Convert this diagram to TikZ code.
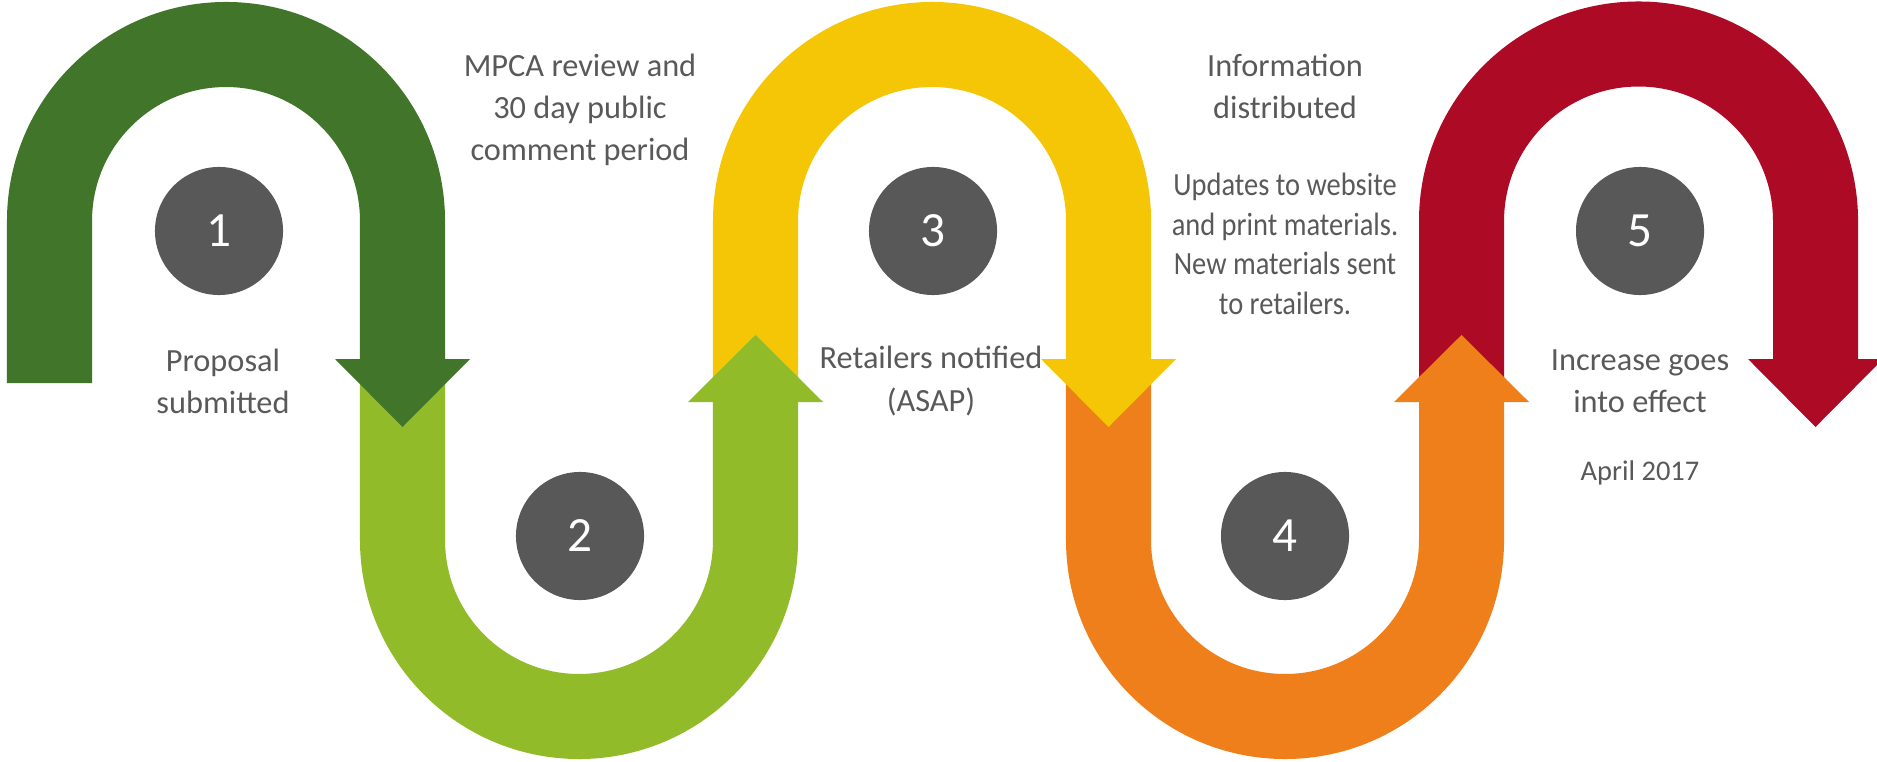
\documentclass[tikz,border=0pt]{standalone}
\usepackage{fontspec}
\setmainfont{Carlito}
\newfontfamily\narrowfont{Carlito}[FakeStretch=0.88]
\definecolor{stepone}{HTML}{41752A}
\definecolor{steptwo}{HTML}{92BB2A}
\definecolor{stepthree}{HTML}{F5C605}
\definecolor{stepfour}{HTML}{EF7F1A}
\definecolor{stepfive}{HTML}{AD0B25}
\definecolor{circlegray}{HTML}{585858}
\definecolor{textgray}{HTML}{595959}
\begin{document}
\begin{tikzpicture}[x=0.01cm,y=0.01cm]

		\tikzstyle{band} = [line width=0.85cm]
		
		\tikzstyle{numbers} = [circle, fill=circlegray, minimum size=1.28cm, inner sep=0, text=white, font=\fontsize{14}{16}\selectfont]
		
		\tikzstyle{labels} = [align=center, text=textgray, font=\fontsize{9.2}{11.95}\selectfont]
		
		\tikzstyle{smalllabels} = [align=center, text=textgray, font=\narrowfont\fontsize{9.2}{11.3}\selectfont]
		
		\useasboundingbox (0,0) rectangle (1877,-761);
		
		\draw[band, stepone] (49.5,-383) -- (49.5,-221) arc (180:0:176.5) -- (402.5,-359);
		\draw[band, steptwo] (402.5,-370) -- (402.5,-540) arc (180:360:176.5) -- (755.5,-402);
		\draw[band, stepthree] (755.5,-395) -- (755.5,-221) arc (180:0:176.5) -- (1108.5,-359);
		\draw[band, stepfour] (1108.5,-370) -- (1108.5,-540) arc (180:360:176.5) -- (1461.5,-402);
		\draw[band, stepfive] (1461.5,-395) -- (1461.5,-221) arc (180:0:177) -- (1815.5,-359);
		
		\fill[stepone] (335,-359) -- (470,-359) -- (402.5,-427) -- cycle;
		\fill[steptwo] (688,-402) -- (823,-402) -- (755.5,-335) -- cycle;
		\fill[stepthree] (1041,-359) -- (1176,-359) -- (1108.5,-427) -- cycle;
		\fill[stepfour] (1394,-402) -- (1529,-402) -- (1461.5,-335) -- cycle;
		\fill[stepfive] (1748,-359) -- (1883,-359) -- (1815.5,-427) -- cycle;
		
		\node[numbers] at (219,-231) (number1) {1};
		\node[numbers] at (580,-536) (number2) {2};
		\node[numbers] at (933,-231) (number3) {3};
		\node[numbers] at (1285,-536) (number4) {4};
		\node[numbers] at (1640,-231) (number5) {5};
		
		\node[labels] at (223,-381) (proposal) {Proposal\\submitted};
		\node[labels] at (580,-110) (review) {MPCA review and\\30 day public\\comment period};
		\node[labels] at (931,-381) (retailers) {Retailers notified\\(ASAP)};
		\node[labels] at (1285,-86) (information) {Information\\distributed};
		\node[smalllabels] at (1285,-244) (updates) {Updates to website\\and print materials.\\New materials sent\\to retailers.};
		\node[labels] at (1640,-381) (increase) {Increase goes\\into effect};
		
	%	\node[smalllabels, below = 1em of increase] (april) {April 2017};
		
		\node[text=textgray, font=\fontsize{8.1}{10}\selectfont] at (1640,-473) (april) {April 2017};
		
\end{tikzpicture}
\end{document}
